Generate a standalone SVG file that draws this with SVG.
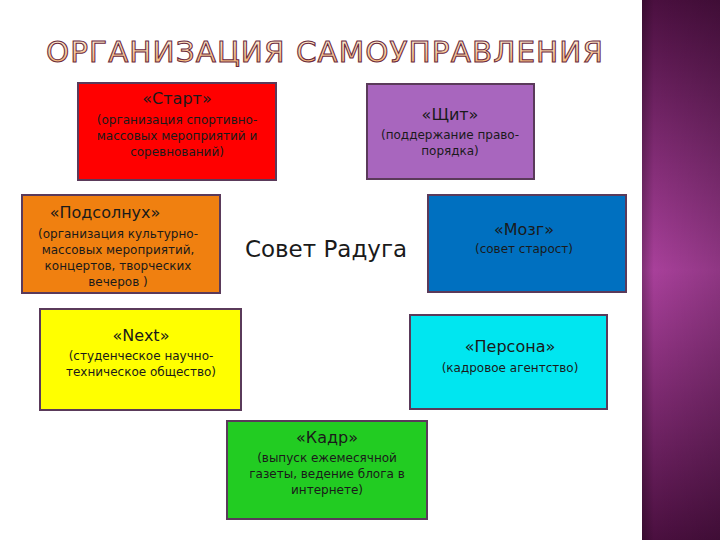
<svg xmlns="http://www.w3.org/2000/svg" width="720" height="540" viewBox="0 0 720 540">
<defs>
<linearGradient id="strip" x1="0" y1="0" x2="0" y2="1">
<stop offset="0" stop-color="#4a0f3f"/><stop offset="0.5" stop-color="#a8409a"/><stop offset="1" stop-color="#4a0f3f"/>
</linearGradient>
<linearGradient id="stripH" x1="0" y1="0" x2="1" y2="0">
<stop offset="0" stop-color="#000" stop-opacity="0.25"/><stop offset="0.15" stop-color="#000" stop-opacity="0"/><stop offset="1" stop-color="#000" stop-opacity="0.15"/>
</linearGradient>
<linearGradient id="tg" x1="0" y1="0" x2="0" y2="1">
<stop offset="0" stop-color="#fff3dc"/><stop offset="1" stop-color="#f5a860"/>
</linearGradient>
<style>
.box{stroke:#5a3a5a;stroke-width:2}
.t{font-family:"DejaVu Sans",sans-serif;font-size:16px;fill:#1a1a1a;text-anchor:middle}
.s{font-family:"DejaVu Sans",sans-serif;font-size:12px;fill:#1a1a1a;text-anchor:middle}
</style>
</defs>
<rect width="720" height="540" fill="#fff"/>
<rect x="642" y="0" width="78" height="540" fill="url(#strip)"/>
<rect x="642" y="0" width="78" height="540" fill="url(#stripH)"/>
<text x="46" y="62" textLength="558" lengthAdjust="spacingAndGlyphs" font-family="DejaVu Sans,sans-serif" font-size="28" text-anchor="start" fill="url(#tg)" stroke="#6a2a40" stroke-width="1" letter-spacing="1">ОРГАНИЗАЦИЯ САМОУПРАВЛЕНИЯ</text>
<g id="start"><rect class="box" x="78" y="83" width="198" height="97" fill="#ff0000"/>
<text class="t" x="177" y="104">«Старт»</text>
<text class="s" x="177" y="124">(организация спортивно-</text>
<text class="s" x="177" y="140">массовых мероприятий и</text>
<text class="s" x="177" y="156">соревнований)</text></g>
<g id="shchit"><rect class="box" x="367" y="84" width="167" height="95" fill="#a866be"/>
<text class="t" x="450" y="120">«Щит»</text>
<text class="s" x="450" y="139">(поддержание право-</text>
<text class="s" x="450" y="155">порядка)</text></g>
<g id="podsolnukh"><rect class="box" x="22" y="195" width="198" height="98" fill="#f08010"/>
<text class="t" x="105" y="218">«Подсолнух»</text>
<text class="s" x="118" y="238">(организация культурно-</text>
<text class="s" x="118" y="254">массовых мероприятий,</text>
<text class="s" x="118" y="270">концертов, творческих</text>
<text class="s" x="118" y="286">вечеров )</text></g>
<g id="center"><text x="326" y="257" font-family="DejaVu Sans,sans-serif" font-size="23" fill="#1a1a1a" text-anchor="middle">Совет Радуга</text></g>
<g id="mozg"><rect class="box" x="428" y="195" width="198" height="97" fill="#0070c0"/>
<text class="t" x="524" y="235">«Мозг»</text>
<text class="s" x="524" y="253">(совет старост)</text></g>
<g id="next"><rect class="box" x="40" y="309" width="201" height="101" fill="#ffff00"/>
<text class="t" x="141" y="341">«Next»</text>
<text class="s" x="141" y="360">(студенческое научно-</text>
<text class="s" x="141" y="376">техническое общество)</text></g>
<g id="persona"><rect class="box" x="410" y="315" width="197" height="94" fill="#00e6f0"/>
<text class="t" x="510" y="352">«Персона»</text>
<text class="s" x="510" y="372">(кадровое агентство)</text></g>
<g id="kadr"><rect class="box" x="227" y="421" width="200" height="98" fill="#22cc22"/>
<text class="t" x="327" y="443">«Кадр»</text>
<text class="s" x="327" y="462">(выпуск ежемесячной</text>
<text class="s" x="327" y="478">газеты, ведение блога в</text>
<text class="s" x="327" y="494">интернете)</text></g>
<g id="connectors"/>
</svg>
